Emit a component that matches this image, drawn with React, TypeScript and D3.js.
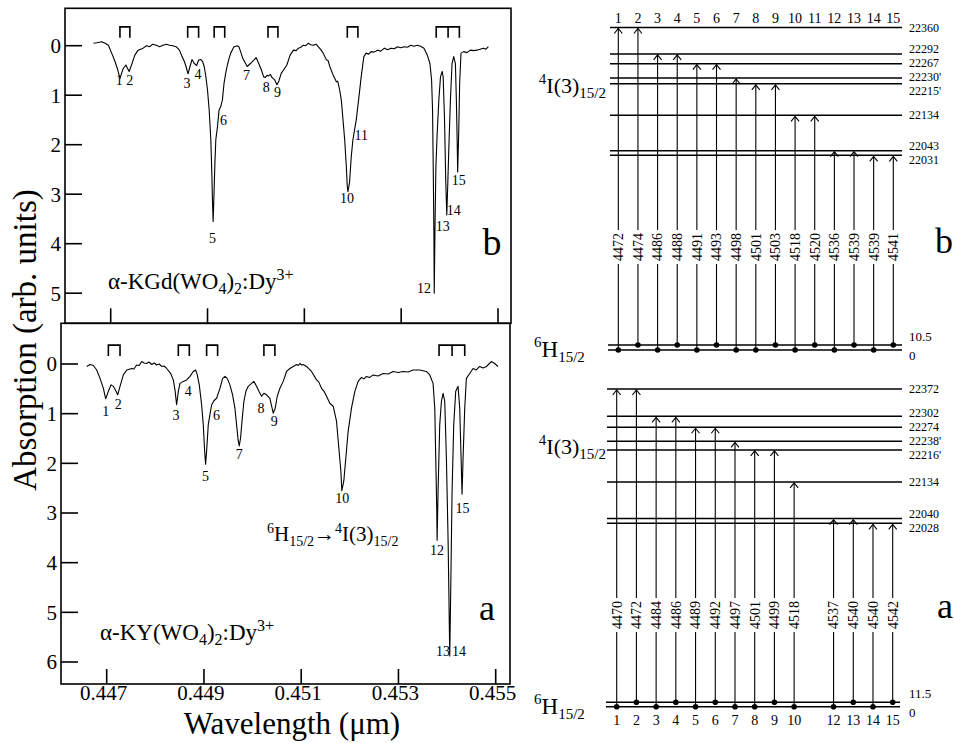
import React from "react";
import * as d3 from "d3";

// ---------- DATA ----------
const xTicks = [0.447, 0.449, 0.451, 0.453, 0.455];
const xTickLabels = ["0.447", "0.449", "0.451", "0.453", "0.455"];
const yTicksB = [0, 1, 2, 3, 4, 5];
const yTicksA = [0, 1, 2, 3, 4, 5, 6];

// spectrum b : [wavelength (Å), absorption]
const spectrumB: [number, number][] = [
  [4466.45, -0.05], [4467.13, -0.06], [4468.16, -0.08], [4468.84, -0.05], [4469.52, -0.01],
  [4470.2, 0.15], [4470.89, 0.32], [4471.37, 0.46], [4471.91, 0.66], [4472.59, 0.46],
  [4473.14, 0.39], [4473.48, 0.46], [4473.82, 0.52], [4474.3, 0.39], [4474.98, 0.19],
  [4475.67, 0.09], [4476.69, 0.05], [4477.4, 0.0], [4478.05, 0.02], [4478.7, -0.03], [4479.42, -0.01],
  [4480.1, 0.02], [4480.78, -0.01], [4481.5, -0.03], [4482.15, -0.01], [4482.8, 0.0], [4483.52, 0.02],
  [4484.2, 0.09], [4484.74, 0.22], [4485.22, 0.32], [4485.56, 0.42], [4485.97, 0.57],
  [4486.38, 0.42], [4486.79, 0.28], [4487.27, 0.36], [4487.75, 0.4], [4488.16, 0.29],
  [4488.63, 0.28], [4488.98, 0.32], [4489.32, 0.42], [4489.66, 0.63], [4490.0, 0.9],
  [4490.34, 1.3], [4490.68, 1.9], [4490.89, 2.58], [4491.02, 3.12], [4491.16, 3.55],
  [4491.3, 3.12], [4491.5, 2.44], [4491.71, 1.9], [4492.05, 1.64], [4492.39, 1.3],
  [4492.73, 1.23], [4493.07, 1.1], [4493.41, 0.76], [4493.75, 0.56], [4494.1, 0.39],
  [4494.44, 0.26], [4494.78, 0.15], [4495.46, 0.02], [4496.14, 0.0], [4496.48, 0.02],
  [4496.83, 0.12], [4497.3, 0.26], [4497.85, 0.36], [4498.19, 0.42], [4498.87, 0.36],
  [4499.56, 0.29], [4500.03, 0.24], [4500.58, 0.36], [4501.13, 0.49], [4501.6, 0.63],
  [4501.95, 0.64], [4502.3, 0.6], [4502.63, 0.61], [4503.0, 0.58], [4503.31, 0.64], [4503.86, 0.69],
  [4504.34, 0.79], [4504.68, 0.73], [4505.22, 0.56], [4505.7, 0.49], [4506.38, 0.39],
  [4507.07, 0.19], [4507.75, 0.09], [4508.3, 0.1], [4508.77, 0.05], [4509.3, 0.03], [4509.8, -0.01],
  [4510.3, 0.0], [4510.82, -0.05], [4511.3, -0.02], [4511.84, -0.01], [4512.4, -0.03], [4512.87, 0.02],
  [4513.4, 0.08], [4513.89, 0.15], [4514.57, 0.29], [4514.9, 0.3], [4515.26, 0.42], [4515.94, 0.59],
  [4516.62, 0.73], [4516.9, 0.72], [4517.3, 0.9], [4517.64, 1.1], [4517.99, 1.5], [4518.33, 1.9],
  [4518.67, 2.44], [4518.87, 2.85], [4519.01, 2.95], [4519.35, 2.75], [4519.69, 2.24],
  [4520.03, 1.9], [4520.72, 1.5], [4521.2, 1.1], [4521.74, 0.63], [4522.29, 0.22],
  [4522.77, 0.15], [4523.3, 0.17], [4523.79, 0.12], [4524.4, 0.13], [4525.15, 0.09], [4525.8, 0.11], [4526.52, 0.05],
  [4527.2, 0.08], [4527.88, 0.05], [4528.6, 0.06], [4529.25, 0.02], [4529.9, 0.04], [4530.61, 0.02], [4531.3, 0.03],
  [4531.98, -0.01], [4532.6, 0.01], [4533.35, -0.01], [4534.0, 0.01], [4534.71, 0.05], [4535.39, 0.19],
  [4535.94, 0.36], [4536.28, 0.69], [4536.48, 1.3], [4536.62, 2.44], [4536.76, 3.79],
  [4536.83, 5.0], [4536.97, 3.79], [4537.17, 2.44], [4537.44, 1.77], [4537.78, 1.1],
  [4538.12, 0.63], [4538.47, 0.52], [4538.67, 0.63], [4538.94, 1.43], [4539.22, 2.78],
  [4539.42, 3.42], [4539.63, 2.78], [4539.83, 2.11], [4540.17, 1.1], [4540.51, 0.36],
  [4540.85, 0.22], [4541.2, 0.36], [4541.4, 1.1], [4541.6, 2.11], [4541.67, 2.55],
  [4541.88, 1.77], [4542.08, 0.76], [4542.36, 0.15], [4542.9, 0.12], [4543.6, 0.14], [4544.27, 0.09],
  [4545.0, 0.1], [4545.63, 0.09], [4546.3, 0.07], [4547.0, 0.05], [4547.5, 0.07], [4548.02, 0.02],
];

// spectrum a : [wavelength (Å), absorption]
const spectrumA: [number, number][] = [
  [4465.89, 0.05], [4466.58, 0.01], [4467.26, 0.03], [4467.95, 0.12], [4468.63, 0.29],
  [4469.32, 0.49], [4469.79, 0.7], [4470.34, 0.55], [4470.89, 0.42], [4471.37, 0.45],
  [4471.92, 0.55], [4472.26, 0.62], [4472.74, 0.45], [4473.42, 0.22], [4474.11, 0.12],
  [4475.14, 0.09], [4475.6, 0.1], [4476.16, 0.02], [4476.7, 0.03], [4477.19, -0.05], [4477.7, -0.02], [4478.22, -0.01],
  [4478.7, -0.04], [4479.25, 0.01], [4479.8, -0.02], [4480.27, 0.02], [4480.8, 0.0], [4481.3, 0.05], [4481.8, 0.04], [4482.33, 0.09],
  [4483.15, 0.19], [4483.7, 0.32], [4484.04, 0.52], [4484.38, 0.82], [4484.73, 0.55],
  [4485.07, 0.39], [4485.75, 0.35], [4486.44, 0.32], [4487.12, 0.25], [4487.81, 0.15],
  [4488.29, 0.12], [4488.63, 0.22], [4489.04, 0.42], [4489.52, 0.82], [4489.86, 1.22],
  [4490.14, 1.75], [4490.34, 2.02], [4490.55, 1.75], [4490.89, 1.22], [4491.23, 1.02],
  [4491.58, 0.82], [4492.05, 0.74], [4492.6, 0.69], [4493.29, 0.49], [4493.84, 0.29],
  [4494.32, 0.25], [4494.79, 0.29], [4495.34, 0.42], [4495.89, 0.62], [4496.37, 0.89],
  [4496.71, 1.22], [4497.05, 1.55], [4497.26, 1.65], [4497.53, 1.49], [4497.88, 1.09],
  [4498.22, 0.75], [4498.63, 0.55], [4499.11, 0.45], [4499.79, 0.39], [4500.27, 0.35],
  [4500.82, 0.45], [4501.3, 0.55], [4501.85, 0.65], [4502.33, 0.59], [4502.88, 0.62],
  [4503.56, 0.69], [4504.25, 0.99], [4504.66, 0.89], [4505.07, 0.65], [4505.62, 0.49],
  [4506.3, 0.35], [4506.99, 0.15], [4507.67, 0.09], [4508.36, 0.05], [4509.04, 0.01],
  [4509.4, 0.03], [4509.73, -0.01], [4510.1, 0.02], [4510.41, 0.01], [4511.1, 0.05], [4512.12, 0.15], [4513.15, 0.32],
  [4513.6, 0.36], [4514.18, 0.49], [4514.7, 0.55], [4515.21, 0.65], [4515.89, 0.79], [4516.58, 0.85], [4517.26, 1.15],
  [4517.74, 1.69], [4518.15, 2.15], [4518.36, 2.55], [4518.77, 2.35], [4519.18, 1.89],
  [4519.66, 1.35], [4520.34, 0.89], [4521.03, 0.55], [4521.71, 0.35], [4522.4, 0.27],
  [4522.9, 0.3], [4523.42, 0.25], [4524.1, 0.27], [4524.79, 0.22], [4525.8, 0.24], [4526.85, 0.19], [4527.9, 0.2],
  [4528.9, 0.15], [4530.0, 0.17], [4530.96, 0.15], [4532.0, 0.16], [4533.01, 0.12], [4534.38, 0.12],
  [4535.75, 0.15], [4536.44, 0.22], [4537.12, 0.39], [4537.47, 0.89], [4537.67, 1.89],
  [4537.88, 2.95], [4537.95, 3.55], [4538.15, 2.55], [4538.49, 1.22], [4538.84, 0.75],
  [4539.18, 0.59], [4539.52, 0.75], [4539.86, 1.89], [4540.21, 3.55], [4540.41, 4.89],
  [4540.55, 5.88], [4540.75, 4.55], [4541.03, 2.55], [4541.37, 1.22], [4541.78, 0.55],
  [4542.26, 0.45], [4542.6, 0.89], [4542.88, 1.89], [4543.08, 2.62], [4543.29, 1.89],
  [4543.63, 0.89], [4543.97, 0.29], [4544.66, 0.19], [4545.34, 0.09], [4546.0, 0.12], [4546.71, 0.05],
  [4547.4, 0.08], [4548.08, 0.05], [4548.6, 0.0], [4549.11, -0.05], [4549.79, -0.01], [4550.48, 0.05],
];

// brackets marking ground-state splitting (Å)
const bracketsB: number[][] = [
  [4471.91, 4473.96], [4485.9, 4488.16], [4491.37, 4493.55], [4502.49, 4504.54],
  [4518.87, 4521.06], [4537.24, 4539.69, 4542.02],
];
const bracketsA: number[][] = [
  [4470.34, 4472.74], [4484.73, 4486.99], [4490.55, 4492.81], [4502.33, 4504.59],
  [4538.35, 4541.03, 4543.63],
];

// peak labels: [label, wavelength (Å), absorption]
const peakLabelsB: [string, number, number][] = [
  ["1", 4471.77, 0.69], ["2", 4473.96, 0.69], ["3", 4485.77, 0.76], ["4", 4488.02, 0.57],
  ["5", 4491.02, 3.89], ["6", 4493.28, 1.5], ["7", 4498.05, 0.59], ["8", 4502.15, 0.83],
  ["9", 4504.47, 0.93], ["10", 4518.81, 3.08], ["11", 4521.74, 1.8], ["12", 4534.71, 4.9],
  ["13", 4538.6, 3.64], ["14", 4540.85, 3.33], ["15", 4541.88, 2.71],
];
const peakLabelsA: [string, number, number][] = [
  ["1", 4469.79, 0.94], ["2", 4472.4, 0.8], ["3", 4484.25, 1.02], ["4", 4486.78, 0.55],
  ["5", 4490.34, 2.25], ["6", 4492.6, 1.03], ["7", 4497.26, 1.81], ["8", 4501.71, 0.89],
  ["9", 4504.45, 1.15], ["10", 4518.42, 2.69], ["12", 4537.95, 3.75], ["13", 4539.18, 5.78],
  ["14", 4542.46, 5.78], ["15", 4543.15, 2.91],
];

// energy level diagrams
const levelsB = [22360, 22292, 22267, 22230, 22215, 22134, 22043, 22031];
const levelLabelsB = ["22360", "22292", "22267", "22230'", "22215'", "22134", "22043", "22031"];
const groundB = [10.5, 0];
const groundLabelsB = ["10.5", "0"];
const colsB = [1, 2, 3, 4, 5, 6, 7, 8, 9, 10, 11, 12, 13, 14, 15];
const upperB = [22360, 22360, 22292, 22292, 22267, 22267, 22230, 22215, 22215, 22134, 22134, 22043, 22043, 22031, 22031];
const lowerB = [0, 10.5, 0, 10.5, 0, 10.5, 0, 0, 10.5, 0, 10.5, 0, 10.5, 0, 10.5];
const wavelengthsB = ["4472", "4474", "4486", "4488", "4491", "4493", "4498", "4501", "4503", "4518", "4520", "4536", "4539", "4539", "4541"];

const levelsA = [22372, 22302, 22274, 22238, 22216, 22134, 22040, 22028];
const levelLabelsA = ["22372", "22302", "22274", "22238'", "22216'", "22134", "22040", "22028"];
const groundA = [11.5, 0];
const groundLabelsA = ["11.5", "0"];
const colsA = [1, 2, 3, 4, 5, 6, 7, 8, 9, 10, 12, 13, 14, 15];
const upperA = [22372, 22372, 22302, 22302, 22274, 22274, 22238, 22216, 22216, 22134, 22040, 22040, 22028, 22028];
const lowerA = [0, 11.5, 0, 11.5, 0, 11.5, 0, 0, 11.5, 0, 0, 11.5, 0, 11.5];
const wavelengthsA = ["4470", "4472", "4484", "4486", "4489", "4492", "4497", "4501", "4499", "4518", "4537", "4540", "4540", "4542"];

// ---------- LAYOUT / STYLE ----------
const FONT = "'Liberation Serif', 'Times New Roman', serif";
const W = 954;
const H = 743;

function dodge(ys: number[], gap: number): number[] {
  const out = ys.slice();
  for (let it = 0; it < 300; it++) {
    for (let i = 0; i < out.length - 1; i++) {
      const d = out[i + 1] - out[i];
      if (d < gap) {
        const s = (gap - d) / 2;
        out[i] -= s;
        out[i + 1] += s;
      }
    }
  }
  return out;
}

type Frame = { x0: number; x1: number; y0: number; y1: number };

function SpectrumPanel(props: {
  frame: Frame;
  x: d3.ScaleLinear<number, number>;
  y: d3.ScaleLinear<number, number>;
  data: [number, number][];
  brackets: number[][];
  labels: [string, number, number][];
  yTicks: number[];
}) {
  const { frame, x, y, data, brackets, labels, yTicks } = props;
  const line = d3
    .line<[number, number]>()
    .x((d) => x(d[0] / 1e4))
    .y((d) => y(d[1]));
  const bTop = y(-0.38);
  const bBot = y(-0.16);
  return (
    <g>
      <rect x={frame.x0} y={frame.y0} width={frame.x1 - frame.x0} height={frame.y1 - frame.y0} fill="none" stroke="#000" strokeWidth={1.6} />
      {yTicks.map((t) => (
        <g key={t}>
          <line x1={frame.x0} x2={frame.x0 + 17} y1={y(t)} y2={y(t)} stroke="#000" strokeWidth={1.6} />
          <text x={frame.x0 - 4} y={y(t)} dy="0.35em" textAnchor="end" fontSize={21} fontFamily={FONT}>
            {t}
          </text>
        </g>
      ))}
      {xTicks.map((t) => (
        <line key={t} x1={x(t)} x2={x(t)} y1={frame.y1} y2={frame.y1 - 15} stroke="#000" strokeWidth={1.6} />
      ))}
      {brackets.map((b, i) => {
        const xs = b.map((v) => x(v / 1e4));
        let d = `M${xs[0]},${bBot}V${bTop}H${xs[xs.length - 1]}V${bBot}`;
        for (let k = 1; k < xs.length - 1; k++) d += `M${xs[k]},${bTop}V${bBot}`;
        return <path key={i} d={d} fill="none" stroke="#000" strokeWidth={1.6} />;
      })}
      <path d={line(data) || ""} fill="none" stroke="#000" strokeWidth={1.1} strokeLinejoin="round" />
      {labels.map(([t, wl, v]) => (
        <text key={t} x={x(wl / 1e4)} y={y(v)} dy="0.35em" textAnchor="middle" fontSize={14} fontFamily={FONT}>
          {t}
        </text>
      ))}
    </g>
  );
}

function Arrowhead({ x, y }: { x: number; y: number }) {
  return <path d={`M${x - 4},${y + 6}L${x},${y + 1}L${x + 4},${y + 6}`} fill="none" stroke="#000" strokeWidth={1.1} />;
}

function EnergyDiagram(props: {
  levels: number[];
  levelLabels: string[];
  ground: number[];
  groundLabels: string[];
  cols: number[];
  upper: number[];
  lower: number[];
  wavelengths: string[];
  yE: d3.ScaleLinear<number, number>;
  yG: d3.ScaleLinear<number, number>;
  xCol: d3.ScalePoint<number>;
  lineX: [number, number];
  groundX: [number, number];
  wlCenter: number;
  numbersY: number;
  excitedLabelY: number;
  letter: string;
  letterY: number;
}) {
  const p = props;
  const ly = dodge(p.levels.map((l) => p.yE(l)), 13.8);
  return (
    <g fontFamily={FONT}>
      {p.levels.map((l) => (
        <line key={l} x1={p.lineX[0]} x2={p.lineX[1]} y1={p.yE(l)} y2={p.yE(l)} stroke="#000" strokeWidth={1.5} />
      ))}
      {p.levelLabels.map((t, i) => (
        <text key={t} x={909} y={ly[i]} dy="0.35em" fontSize={12}>
          {t}
        </text>
      ))}
      {p.ground.map((g) => (
        <line key={g} x1={p.groundX[0]} x2={p.groundX[1]} y1={p.yG(g)} y2={p.yG(g)} stroke="#000" strokeWidth={1.5} />
      ))}
      <text x={909} y={p.yG(p.ground[0]) - 4} fontSize={13}>
        {p.groundLabels[0]}
      </text>
      <text x={909} y={p.yG(p.ground[1]) + 10} fontSize={13}>
        {p.groundLabels[1]}
      </text>
      {p.cols.map((c, i) => {
        const x = p.xCol(c) as number;
        const yTop = p.yE(p.upper[i]);
        const yBot = p.yG(p.lower[i]);
        return (
          <g key={c}>
            <line x1={x} x2={x} y1={yTop + 1} y2={yBot} stroke="#000" strokeWidth={1.1} />
            <Arrowhead x={x} y={yTop} />
            <circle cx={x} cy={yBot} r={2.8} fill="#000" />
            <rect x={x - 6} y={p.wlCenter - 17} width={12} height={34} fill="#fff" />
            <text
              transform={`translate(${x},${p.wlCenter}) rotate(-90)`}
              textAnchor="middle"
              dy="0.35em"
              fontSize={14}
            >
              {p.wavelengths[i]}
            </text>
            <text x={x} y={p.numbersY} textAnchor="middle" fontSize={14}>
              {c}
            </text>
          </g>
        );
      })}
      <text x={606} y={p.excitedLabelY} textAnchor="end" fontSize={22}>
        <tspan fontSize={15} dy={-9}>4</tspan>
        <tspan dy={9}>I(3)</tspan>
        <tspan fontSize={15} dy={5}>15/2</tspan>
      </text>
      <text x={534} y={p.yG(0) + 7} fontSize={23}>
        <tspan fontSize={15} dy={-10}>6</tspan>
        <tspan dy={10}>H</tspan>
        <tspan fontSize={15} dy={5}>15/2</tspan>
      </text>
      <text x={953} y={p.letterY} textAnchor="end" fontSize={36}>
        {p.letter}
      </text>
    </g>
  );
}

export default function App() {
  const frameB: Frame = { x0: 65, x1: 511, y0: 8.3, y1: 323.3 };
  const frameA: Frame = { x0: 61, x1: 510, y0: 323.3, y1: 684 };
  const xB = d3.scaleLinear().domain([0.447, 0.455]).range([110.7, 498]);
  const xA = d3.scaleLinear().domain([0.447, 0.455]).range([106.7, 495.7]);
  const yB = d3.scaleLinear().domain([0, 5]).range([45.7, 293.2]);
  const yA = d3.scaleLinear().domain([0, 6]).range([364, 662]);

  const yEB = d3.scaleLinear().domain([22360, 22031]).range([27.5, 155.3]);
  const yGB = d3.scaleLinear().domain([0, 10.5]).range([350, 345]);
  const xColB = d3.scalePoint<number>().domain(colsB).range([618.3, 893.3]);

  const yEA = d3.scaleLinear().domain([22372, 22028]).range([389, 523.3]);
  const yGA = d3.scaleLinear().domain([0, 11.5]).range([706.7, 702.3]);
  const xColA = d3
    .scalePoint<number>()
    .domain(d3.range(1, 16))
    .range([616.7, 892.7]);

  return (
    <svg width={W} height={H} style={{ position: "absolute", left: 0, top: 0, background: "#fff" }} fontFamily={FONT}>
      <rect x={0} y={0} width={W} height={H} fill="#fff" />
      <SpectrumPanel frame={frameB} x={xB} y={yB} data={spectrumB} brackets={bracketsB} labels={peakLabelsB} yTicks={yTicksB} />
      <SpectrumPanel frame={frameA} x={xA} y={yA} data={spectrumA} brackets={bracketsA} labels={peakLabelsA} yTicks={yTicksA} />

      {xTicks.map((t, i) => (
        <text key={t} x={xA(t) - 3} y={700} textAnchor="middle" fontSize={21}>
          {xTickLabels[i]}
        </text>
      ))}
      <text x={292} y={734} textAnchor="middle" fontSize={31}>
        Wavelength (μm)
      </text>
      <text transform="translate(36,340) rotate(-90)" textAnchor="middle" fontSize={33}>
        Absorption (arb. units)
      </text>

      <text x={108} y={289} fontSize={23}>
        α-KGd(WO<tspan fontSize={16} dy={5}>4</tspan>
        <tspan dy={-5}>)</tspan>
        <tspan fontSize={16} dy={5}>2</tspan>
        <tspan dy={-5}>:Dy</tspan>
        <tspan fontSize={16} dy={-9}>3+</tspan>
      </text>
      <text x={100} y={640} fontSize={23}>
        α-KY(WO<tspan fontSize={16} dy={5}>4</tspan>
        <tspan dy={-5}>)</tspan>
        <tspan fontSize={16} dy={5}>2</tspan>
        <tspan dy={-5}>:Dy</tspan>
        <tspan fontSize={16} dy={-9}>3+</tspan>
      </text>
      <text x={267} y={541} fontSize={21}>
        <tspan fontSize={14} dy={-8}>6</tspan>
        <tspan dy={8}>H</tspan>
        <tspan fontSize={14} dy={5}>15/2</tspan>
        <tspan dy={-5}>→</tspan>
        <tspan fontSize={14} dy={-8}>4</tspan>
        <tspan dy={8}>I(3)</tspan>
        <tspan fontSize={14} dy={5}>15/2</tspan>
      </text>
      <text x={492} y={255} textAnchor="middle" fontSize={38}>b</text>
      <text x={487} y={620} textAnchor="middle" fontSize={36}>a</text>

      <EnergyDiagram
        levels={levelsB}
        levelLabels={levelLabelsB}
        ground={groundB}
        groundLabels={groundLabelsB}
        cols={colsB}
        upper={upperB}
        lower={lowerB}
        wavelengths={wavelengthsB}
        yE={yEB}
        yG={yGB}
        xCol={xColB}
        lineX={[610, 902]}
        groundX={[608, 902]}
        wlCenter={247}
        numbersY={23}
        excitedLabelY={93}
        letter="b"
        letterY={253}
      />
      <EnergyDiagram
        levels={levelsA}
        levelLabels={levelLabelsA}
        ground={groundA}
        groundLabels={groundLabelsA}
        cols={colsA}
        upper={upperA}
        lower={lowerA}
        wavelengths={wavelengthsA}
        yE={yEA}
        yG={yGA}
        xCol={xColA}
        lineX={[607, 902]}
        groundX={[606, 900]}
        wlCenter={615}
        numbersY={725}
        excitedLabelY={454}
        letter="a"
        letterY={618}
      />
    </svg>
  );
}
